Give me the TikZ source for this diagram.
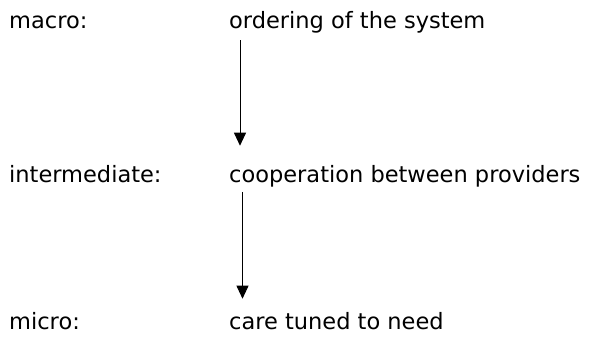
\documentclass[tikz,border=0pt]{standalone}
\usepackage{fontspec}
\setmainfont{DejaVu Sans}
\usetikzlibrary{arrows.meta}
\tikzset{
    level/.style={anchor=base west,inner sep=0pt,font=\fontsize{22.5}{27}\selectfont},
    flow/.style={-{Triangle[length=13pt,width=12pt]},line width=0.9pt}
}
\begin{document}
\begin{tikzpicture}[x=1pt,y=-1pt]
    \useasboundingbox (0,0) rectangle (589,341);
    \node[level] (macro) at (9,28) {macro:};
    \node[level] (ordering) at (229,28) {ordering of the system};
    \node[level] (inter) at (9,182) {intermediate:};
    \node[level] (coop) at (229,182) {cooperation between providers};
    \node[level] (micro) at (9,329) {micro:};
    \node[level] (care) at (229,329) {care tuned to need};
    \draw[flow,shorten <=7.5pt,shorten >=19pt] ([xshift=11pt]ordering.south west) -- ([xshift=11pt]coop.north west);
    \draw[flow,shorten <=5pt,shorten >=13pt] ([xshift=13.5pt]coop.south west) -- ([xshift=13.5pt]care.north west);
\end{tikzpicture}
\end{document}
